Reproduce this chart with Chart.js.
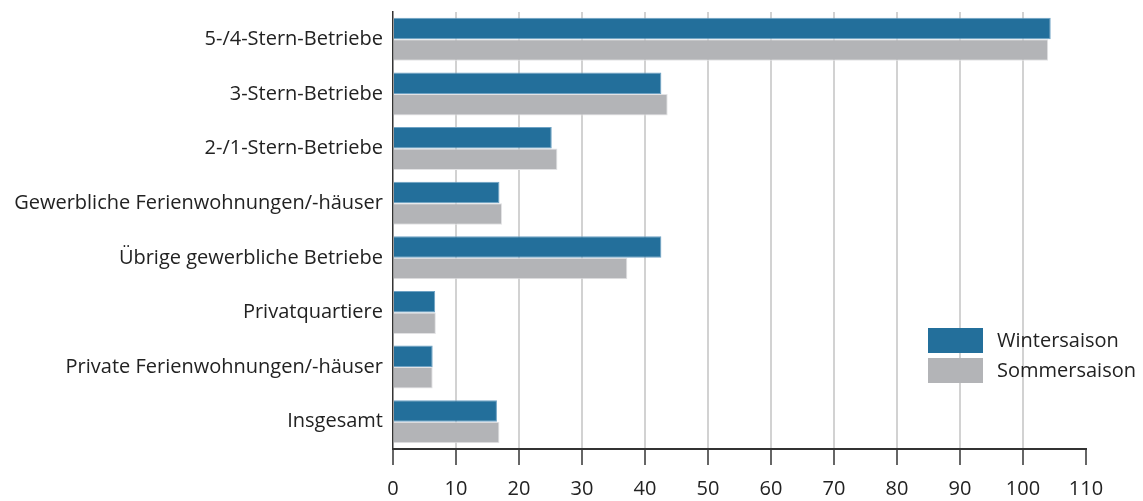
<!DOCTYPE html>
<html>
<head>
<meta charset="utf-8">
<script src="https://cdn.jsdelivr.net/npm/chart.js@4/dist/chart.umd.min.js"></script>
<style>
  html, body { margin: 0; padding: 0; background: #fff; }
  #wrap { width: 1143px; height: 501px; }
</style>
</head>
<body>
<div id="wrap"><canvas id="chart" width="1143" height="501"></canvas></div>
<script>
// Kategorien (Betriebsarten)
const categories = [
  "5-/4-Stern-Betriebe",
  "3-Stern-Betriebe",
  "2-/1-Stern-Betriebe",
  "Gewerbliche Ferienwohnungen/-häuser",
  "Übrige gewerbliche Betriebe",
  "Privatquartiere",
  "Private Ferienwohnungen/-häuser",
  "Insgesamt"
];

const winterValues = [104.4, 42.6, 25.2, 16.9, 42.6, 6.7, 6.3, 16.5];
const summerValues = [104.0, 43.6, 26.1, 17.3, 37.2, 6.8, 6.3, 16.9];

const seriesLabels = ["Wintersaison", "Sommersaison"];
const xTicks = [0, 10, 20, 30, 40, 50, 60, 70, 80, 90, 100, 110];

const FONT = "'Open Sans', sans-serif";

// Legende rechts unten im Plot
const boxLegend = {
  id: "boxLegend",
  afterDraw(chart) {
    const ctx = chart.ctx;
    const x0 = 928, y0 = 328, boxW = 55, boxH = 25, step = 30;
    ctx.save();
    ctx.font = "20px " + FONT;
    ctx.textBaseline = "middle";
    chart.data.datasets.forEach((ds, i) => {
      const y = y0 + i * step;
      ctx.fillStyle = ds.backgroundColor;
      ctx.fillRect(x0, y, boxW, boxH);
      ctx.fillStyle = "#222";
      ctx.fillText(ds.label, 997, y + boxH / 2 + 1);
    });
    ctx.restore();
  }
};

new Chart(document.getElementById("chart").getContext("2d"), {
  type: "bar",
  data: {
    labels: categories,
    datasets: [
      {
        label: seriesLabels[0],
        data: winterValues,
        backgroundColor: "#236f9b",
        borderColor: "#6ea2c4",
        borderWidth: 1,
        categoryPercentage: 0.785,
        barPercentage: 1.0
      },
      {
        label: seriesLabels[1],
        data: summerValues,
        backgroundColor: "#b3b4b7",
        borderColor: "#e2e2e4",
        borderWidth: 1,
        categoryPercentage: 0.785,
        barPercentage: 1.0
      }
    ]
  },
  options: {
    indexAxis: "y",
    responsive: false,
    animation: false,
    layout: { padding: { top: 12, right: 57, left: 0, bottom: 0 } },
    scales: {
      x: {
        type: "linear",
        min: 0,
        max: 110,
        afterBuildTicks: (scale) => { scale.ticks = xTicks.map(v => ({ value: v })); },
        afterFit: (scale) => { scale.height = 52; },
        border: { display: true, color: "#333", width: 2 },
        grid: {
          color: (c) => (c.tick && (c.tick.value === 0 || c.tick.value === 110)) ? "rgba(0,0,0,0)" : "#d2d2d2",
          lineWidth: 2,
          tickColor: "#333",
          tickLength: 16,
          tickWidth: 1.5
        },
        ticks: {
          color: "#222",
          font: { family: FONT, size: 20 },
          padding: 12,
          maxRotation: 0
        }
      },
      y: {
        afterFit: (scale) => {
          scale.width = 393;
          scale.paddingTop = 0;
          scale.paddingBottom = 0;
        },
        border: { display: true, color: "#333", width: 1.5 },
        grid: { display: false, drawTicks: false },
        ticks: {
          color: "#222",
          font: { family: FONT, size: 20 },
          padding: 10
        }
      }
    },
    plugins: {
      legend: { display: false },
      tooltip: { enabled: false }
    }
  },
  plugins: [boxLegend]
});
</script>
</body>
</html>
